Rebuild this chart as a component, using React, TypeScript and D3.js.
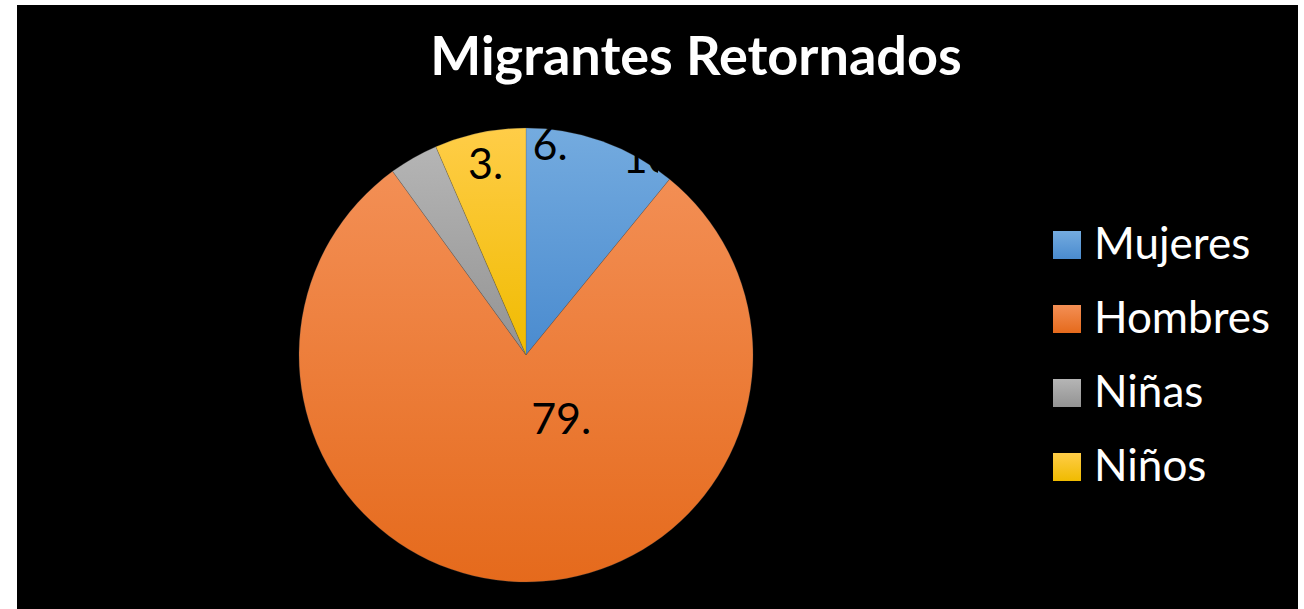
import { useMemo } from "react";
import * as d3 from "d3";

// Migrantes retornados, share by group (%)
const categories = ["Mujeres", "Hombres", "Niñas", "Niños"];
const values = [10.9, 79.1, 3.5, 6.5];
const title = "Migrantes Retornados";

// gradient stops per slice: [top, bottom]
const sliceColors: [string, string][] = [
  ["#74abdf", "#4a8bcf"],
  ["#f38f55", "#e56a1c"],
  ["#b5b5b5", "#939393"],
  ["#ffcd48", "#f0bb00"],
];

// where Excel dropped each data label, relative to pie centre (fractions of radius)
const labelSpots: [number, number][] = [
  [0.426, -0.8],
  [0.155, 0.35],
  [-0.178, -0.775],
  [0.106, -0.86],
];

const W = 1304;
const H = 609;

export default function App() {
  const cx = 526;
  const cy = 355;
  const r = 227;

  const arcs = useMemo(
    () =>
      d3
        .pie<number>()
        .sort(null)
        .value((d) => d)(values),
    []
  );
  const arcGen = d3.arc<d3.PieArcDatum<number>>().innerRadius(0).outerRadius(r);

  const legendY = d3
    .scalePoint<string>()
    .domain(categories)
    .range([259, 481]);

  return (
    <div style={{ position: "fixed", left: 0, top: 0, width: W, height: H, background: "#fff" }}>
      <svg width={W} height={H} style={{ display: "block" }}>
        <defs>
          {sliceColors.map((c, i) => (
            <linearGradient key={i} id={`g${i}`} x1="0" y1="0" x2="0" y2="1">
              <stop offset="0%" stopColor={c[0]} />
              <stop offset="100%" stopColor={c[1]} />
            </linearGradient>
          ))}
          <clipPath id="lblclip">
            <rect x={600} y={153} width={58} height={30} />
          </clipPath>
        </defs>
        <rect x={17} y={5} width={1281} height={H - 5} fill="#000" />

        <text
          x={696}
          y={75}
          textAnchor="middle"
          fill="#fff"
          fontFamily="Lato, 'Open Sans', sans-serif"
          fontWeight={700}
          fontSize={54}
        >
          {title}
        </text>

        <g transform={`translate(${cx},${cy})`}>
          {arcs.map((a, i) => (
            <path
              key={categories[i]}
              d={arcGen(a) || ""}
              fill={`url(#g${i})`}
              stroke="#555"
              strokeWidth={0.4}
              strokeOpacity={0.6}
            />
          ))}
        </g>

        {values.map((v, i) => {
          const [fx, fy] = labelSpots[i];
          const clipped = i === 0;
          return (
            <text
              key={i}
              x={cx + fx * r}
              y={cy + fy * r}
              textAnchor={clipped ? "start" : "middle"}
              fill="#000"
              fontFamily="Lato, 'Open Sans', sans-serif"
              fontSize={43}
              clipPath={clipped ? "url(#lblclip)" : undefined}
            >
              {`${Math.floor(v)}.`}
            </text>
          );
        })}

        {categories.map((c, i) => {
          const y = legendY(c) || 0;
          return (
            <g key={c}>
              <rect x={1053} y={y - 28} width={28} height={28} fill={`url(#g${i})`} />
              <text
                x={1094}
                y={y}
                fill="#fff"
                fontFamily="Lato, 'Open Sans', sans-serif"
                fontSize={44}
              >
                {c}
              </text>
            </g>
          );
        })}
      </svg>
    </div>
  );
}
